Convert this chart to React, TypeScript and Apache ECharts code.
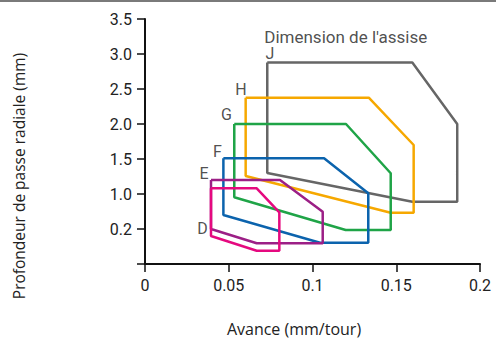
import React, { useEffect, useRef } from "react";
import * as echarts from "echarts";

// Polygons (x: avance mm/tour, y: axis position)
const polyJ = [[0.073, 2.88], [0.1596, 2.88], [0.1864, 2.0], [0.1864, 0.89], [0.1596, 0.89], [0.073, 1.3], [0.073, 2.88]];
const polyH = [[0.0601, 2.376], [0.1336, 2.376], [0.1604, 1.7], [0.1604, 0.733], [0.1467, 0.733], [0.0601, 1.257], [0.0601, 2.376]];
const polyG = [[0.0533, 2.0], [0.12, 2.0], [0.1467, 1.296], [0.1467, 0.486], [0.1198, 0.486], [0.0533, 0.953], [0.0533, 2.0]];
const polyF = [[0.0468, 1.51], [0.1069, 1.51], [0.1333, 1.01], [0.1333, 0.304], [0.1045, 0.304], [0.0468, 0.7], [0.0468, 1.51]];
const polyE = [[0.0394, 1.2], [0.0806, 1.2], [0.1061, 0.747], [0.1061, 0.296], [0.0667, 0.296], [0.0394, 0.5], [0.0394, 1.2]];
const polyD = [[0.0394, 1.081], [0.0667, 1.081], [0.0802, 0.739], [0.0802, 0.19], [0.0667, 0.19], [0.0394, 0.4], [0.0394, 1.081]];

const seriesNames = ["J", "H", "G", "F", "E", "D"];
const seriesPolys = [polyJ, polyH, polyG, polyF, polyE, polyD];
const seriesColors = ["#666666", "#f6a800", "#1fa447", "#0b63ad", "#9c1f86", "#e5097f"];

const labelNames = ["J", "H", "G", "F", "E", "D"];
const labelPos = [[0.0746, 3.01], [0.0573, 2.5], [0.0487, 2.14], [0.0433, 1.61], [0.0352, 1.29], [0.0343, 0.514]];

const titleText = "Dimension de l'assise";
const titlePos = [0.0712, 3.24];

const yTickLabels: Record<string, string> = { "0.5": "0.2", "1": "1.0", "1.5": "1.5", "2": "2.0", "2.5": "2.5", "3": "3.0", "3.5": "3.5" };

export default function App() {
  const ref = useRef<HTMLDivElement>(null);
  useEffect(() => {
    const chart = echarts.init(ref.current!, null, { renderer: "svg" });
    const font = "Roboto";
    chart.setOption({
      animation: false,
      grid: { left: 145, right: 16, top: 19, bottom: 75 },
      xAxis: {
        type: "value",
        min: 0,
        max: 0.2,
        interval: 0.05,
        splitLine: { show: false },
        axisLine: { show: true, lineStyle: { color: "#111", width: 2 } },
        axisTick: { show: true, length: 8, lineStyle: { color: "#111", width: 1.5 } },
        axisLabel: {
          margin: 13,
          fontSize: 16,
          fontFamily: font,
          color: "#222",
          formatter: (v: number) => String(parseFloat(v.toFixed(2))),
        },
      },
      yAxis: {
        type: "value",
        min: 0,
        max: 3.5,
        interval: 0.5,
        splitLine: { show: false },
        axisLine: { show: true, lineStyle: { color: "#111", width: 2 } },
        axisTick: { show: true, length: 8, lineStyle: { color: "#111", width: 1.5 } },
        axisLabel: {
          margin: 13,
          fontSize: 16,
          fontFamily: font,
          color: "#222",
          formatter: (v: number) => yTickLabels[String(parseFloat(v.toFixed(2)))] || "",
        },
      },
      graphic: [
        { type: "rect", shape: { x: 0, y: 0, width: 496, height: 2 }, style: { fill: "#7a7a7a" } },
        {
          type: "text",
          x: 19,
          y: 176,
          rotation: Math.PI / 2,
          style: { text: "Profondeur de passe radiale (mm)", font: "15.5px 'Open Sans'", fill: "#222", textAlign: "center", textVerticalAlign: "middle" },
        },
        {
          type: "text",
          x: 294,
          y: 329,
          style: { text: "Avance (mm/tour)", font: "16px 'Open Sans'", fill: "#222", textAlign: "center", textVerticalAlign: "middle" },
        },
      ],
      series: [
        ...seriesPolys.map((p, i) => ({
          type: "line",
          name: seriesNames[i],
          data: p,
          symbol: "none",
          lineStyle: { color: seriesColors[i], width: 2.5 },
          z: 2 + i,
        })),
        {
          type: "scatter",
          symbolSize: 0,
          data: labelNames.map((n, i) => ({ value: labelPos[i], name: n })),
          label: { show: true, position: "inside", formatter: (p: any) => p.name, fontSize: 16, fontFamily: font, color: "#222" },
          z: 20,
        },
        {
          type: "scatter",
          symbolSize: 0,
          data: [{ value: titlePos, name: titleText }],
          label: { show: true, position: "right", distance: 0, formatter: (p: any) => p.name, fontSize: 17, fontFamily: font, color: "#222" },
          z: 20,
        },
      ],
    });
    return () => chart.dispose();
  }, []);
  return <div ref={ref} style={{ position: "absolute", left: 0, top: 0, width: 496, height: 339 }} />;
}
